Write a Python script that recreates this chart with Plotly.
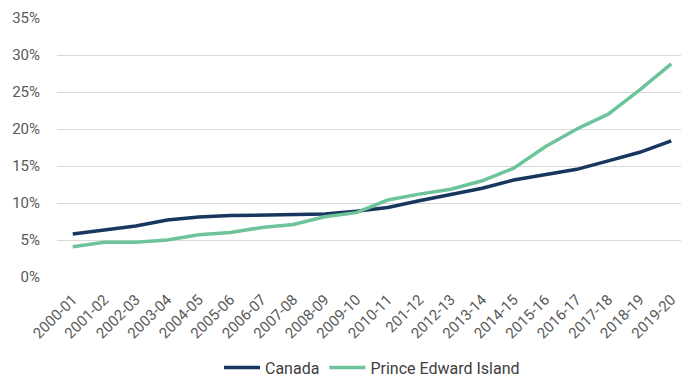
import plotly.graph_objects as go

years = ["2000-01", "2001-02", "2002-03", "2003-04", "2004-05", "2005-06", "2006-07",
         "2007-08", "2008-09", "2009-10", "2010-11", "201-12", "2012-13", "2013-14",
         "2014-15", "2015-16", "2016-17", "2017-18", "2018-19", "2019-20"]
canada = [5.8, 6.35, 6.9, 7.7, 8.1, 8.3, 8.35, 8.5, 8.5, 8.9, 9.4, 10.3, 11.1, 12.0,
          13.1, 13.8, 14.55, 15.7, 16.85, 18.4]
pei = [4.1, 4.7, 4.7, 5.0, 5.7, 6.0, 6.7, 7.1, 8.15, 8.7, 10.4, 11.2, 11.85, 13.0,
       14.7, 17.6, 20.0, 22.0, 25.3, 28.8]
yticks = [0, 5, 10, 15, 20, 25, 30, 35]

fig = go.Figure()
fig.add_trace(go.Scatter(x=years, y=canada, mode="lines", name="Canada",
                         line=dict(color="#17375E", width=3.5)))
fig.add_trace(go.Scatter(x=years, y=pei, mode="lines", name="Prince Edward Island",
                         line=dict(color="#6DC49B", width=3.5)))

fig.update_layout(
    width=689, height=377,
    margin=dict(l=49, r=10, t=10, b=108, autoexpand=False),
    plot_bgcolor="white", paper_bgcolor="white",
    font=dict(family="Roboto", size=15, color="#595959"),
    xaxis=dict(type="category", tickangle=-45, showgrid=False, showline=False,
               ticks="", tickfont=dict(size=15, color="#595959"), automargin=False,
               ticklabelstandoff=10,
               range=[-0.5, len(years) - 0.5]),
    yaxis=dict(range=[0, 35], tickvals=yticks,
               ticktext=[f"{v}%" for v in yticks],
               showgrid=True, gridcolor="#D9D9D9", gridwidth=1,
               zeroline=False, showline=False, ticks="", automargin=False,
               tickfont=dict(size=15, color="#595959"), ticklabelstandoff=16),
    legend=dict(orientation="h", x=0.5, xanchor="center", y=-0.284, yanchor="top",
                font=dict(size=16, color="#404040"), itemwidth=36,
                traceorder="normal", tracegroupgap=0),
    showlegend=True,
)

fig.write_html("out.html")
